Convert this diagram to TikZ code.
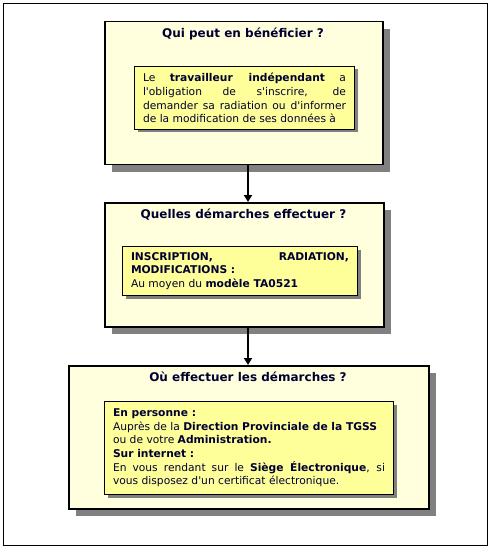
\documentclass[tikz,border=0pt]{standalone}
\usepackage{fontspec}
\setmainfont{DejaVu Sans}
\usetikzlibrary{shadows,arrows.meta}
\definecolor{outerfill}{HTML}{FFFFDD}
\definecolor{innerfill}{HTML}{FFFF99}
\definecolor{shadowgray}{HTML}{808080}
\definecolor{txt}{HTML}{000033}
\begin{document}
\begin{tikzpicture}[x=1pt,y=-1pt,
  outerbox/.style={draw=black,line width=1.5pt,fill=outerfill,rectangle,inner sep=0pt,anchor=north west,
    drop shadow={shadow xshift=7pt,shadow yshift=-7pt,fill=shadowgray,opacity=1}},
  innerbox/.style={draw=black,line width=1pt,fill=innerfill,rectangle,anchor=north west,
    inner xsep=8.5pt,inner ysep=0pt,align=justify,text=txt,
    font=\fontsize{10.7}{13.6}\selectfont,
    drop shadow={shadow xshift=3pt,shadow yshift=-3pt,fill=shadowgray,opacity=1}},
  titletext/.style={font=\fontsize{12}{14}\selectfont\bfseries,text=txt,anchor=center,inner sep=0pt},
  flow/.style={line width=2pt,-{Triangle[length=7pt,width=8pt]}}]
\useasboundingbox (0,0) rectangle (490,548);
\node[draw=black,line width=1.4pt,rectangle,anchor=north west,minimum width=484pt,minimum height=542pt,inner sep=0pt] (frame) at (3,3) {};

\node[outerbox,minimum width=278pt,minimum height=143pt] (box1) at (104,21) {};
\node[titletext] (t1) at (243,34) {Qui peut en bénéficier ?};
\node[innerbox,text width=203pt,minimum height=63pt] (in1) at (134,66)
  {Le \textbf{travailleur indépendant} a\linebreak l\textquotesingle obligation de s\textquotesingle inscrire, de\linebreak demander sa radiation ou d\textquotesingle informer\linebreak de la modification de ses données à};

\node[outerbox,minimum width=279pt,minimum height=124pt] (box2) at (104,202) {};
\node[titletext] (t2) at (243.5,215) {Quelles démarches effectuer ?};
\node[innerbox,text width=218pt,minimum height=49pt] (in2) at (122,246)
  {\textbf{INSCRIPTION, RADIATION,}\linebreak \textbf{MODIFICATIONS :}\\ Au moyen du \textbf{modèle TA0521}};

\node[outerbox,minimum width=360pt,minimum height=143pt] (box3) at (68,365) {};
\node[titletext] (t3) at (248,377) {Où effectuer les démarches ?};
\node[innerbox,text width=272pt,minimum height=93pt] (in3) at (104,401)
  {\textbf{En personne :}\\ Auprès de la \textbf{Direction Provinciale de la TGSS}\\ ou de votre \textbf{Administration.}\\ \textbf{Sur internet :}\\ En vous rendant sur le \textbf{Siège Électronique}, si\linebreak vous disposez d\textquotesingle un certificat électronique.};

\coordinate (ax) at (248,0);
\draw[flow] (ax |- box1.south) -- (ax |- box2.north);
\draw[flow] (ax |- box2.south) -- (ax |- box3.north);
\end{tikzpicture}
\end{document}
